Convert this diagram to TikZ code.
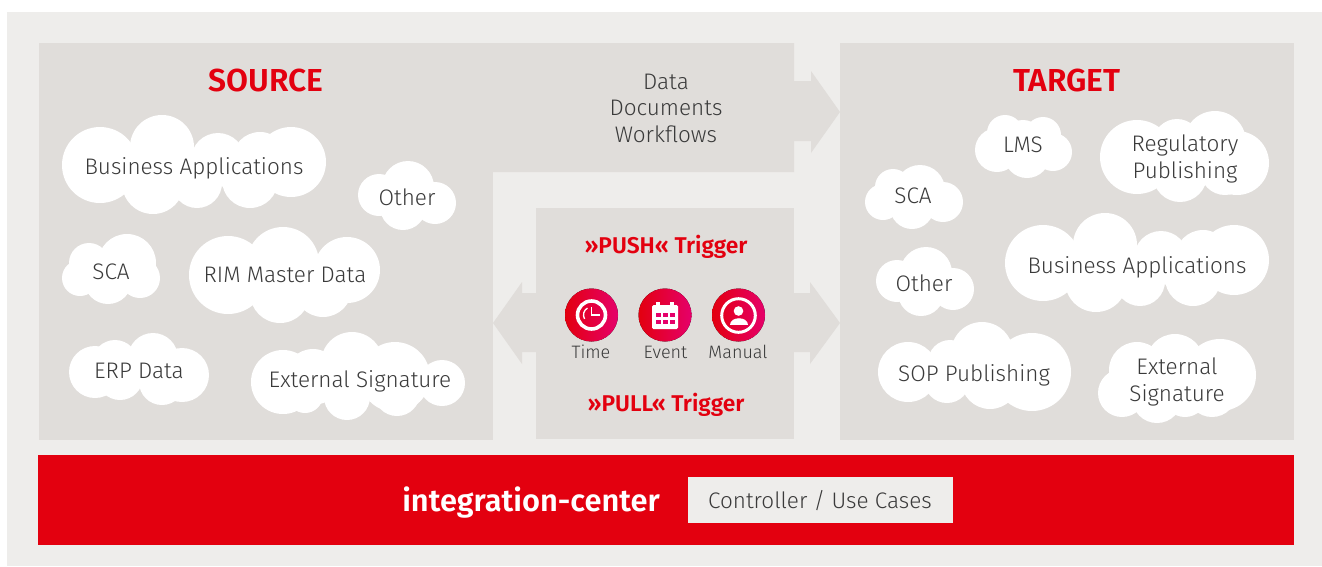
\documentclass[tikz,border=0pt]{standalone}
\usepackage{fontspec}
\setmainfont{Fira Sans}[UprightFont=* Light,BoldFont=* SemiBold]
\definecolor{pagegrey}{HTML}{EEEDEB}
\definecolor{panelgrey}{HTML}{E0DDDA}
\definecolor{icred}{HTML}{E3000F}
\definecolor{icmagenta}{HTML}{E5006A}
\definecolor{inktext}{HTML}{3A3A3A}
\tikzset{
	panel/.style={fill=panelgrey},
	puff/.style={fill=white},
	cloudtext/.style={text=inktext,align=center,font=\fontsize{22.5}{26.5}\selectfont},
	headline/.style={text=icred,font=\bfseries\fontsize{31.8}{34}\selectfont},
	triggertext/.style={text=icred,font=\bfseries\fontsize{22.8}{26}\selectfont},
	icontext/.style={text=inktext,font=\fontsize{18}{20}\selectfont},
	badge/.style={left color=icred,right color=icmagenta},
	iconline/.style={draw=white,line width=3.6pt},
}
\newcommand{\bizcloud}{100/165/38,162/147/32,218/160/27,260/160/28,291/162/35,153/183/31,197/183/25,250/180/28}
\newcommand{\othercloud}{379/195/21,408/187/26,435/203/21,403/207/23}
\newcommand{\scacloudA}{80/278/18,89/263/20,127/263/29,140/278/20,108/280/24}
\newcommand{\scacloudB}{883/202/18,893/187/18,920/190/25,943/202/20,912/207/22}
\newcommand{\rimcloud}{228/275/39,283/263/36,347/270/33,280/293/30,323/288/29}
\newcommand{\erpcloud}{95/372/26,115/363/23,153/358/25,182/375/27,120/377/23,162/382/23}
\newcommand{\signcloudA}{283/382/32,313/377/28,352/363/31,395/377/35,442/383/23,347/397/23,305/395/18,397/393/23}
\newcommand{\lmscloud}{997/150/22,1005/133/18,1043/135/18,1053/152/19,1027/155/23,1023/140/20}
\newcommand{\regcloud}{1137/157/37,1177/143/24,1215/142/31,1237/163/32,1180/175/27,1225/170/25}
\newcommand{\sopcloud}{908/372/30,950/362/22,982/353/31,1032/372/39,947/380/23,990/380/29}
\newcommand{\signcloudB}{1122/393/24,1137/370/28,1175/363/29,1220/375/36,1157/398/25,1212/392/25,1185/395/22}
\newcommand{\drawcloud}[3]{\foreach \x/\y/\r in #3 {\fill[puff,shift={(#1,#2)}] (\x,\y) circle[radius=\r];}}
\begin{document}
\begin{tikzpicture}[x=1pt,y=-1pt]
	\useasboundingbox (0,0) rectangle (1322,566);
	\fill[pagegrey] (7,12) rectangle (1322,566);
	\fill[panel] (39,43) rectangle (493,440);
	\fill[panel] (840,43) rectangle (1294,440);
	\fill[panel] (493,43)--(794,43)--(794,81)--(811,81)--(811,71)--(840,112)--(811,153)--(811,141)--(794,141)--(794,172)--(493,172)--cycle;
	\fill[panel] (536,208) rectangle (794,439);
	\fill[panel] (536,293)--(522,293)--(522,282)--(493,323)--(522,364)--(522,352)--(536,352)--cycle;
	\fill[panel] (794,293)--(810,293)--(810,282)--(840,323)--(810,364)--(810,352)--(794,352)--cycle;
	\fill[icred] (38,455) rectangle (1294,545);
	\fill[pagegrey] (688,477) rectangle (953,523);

	\drawcloud{0}{0}{\bizcloud}
	\drawcloud{0}{0}{\othercloud}
	\drawcloud{0}{0}{\scacloudA}
	\drawcloud{0}{0}{\rimcloud}
	\drawcloud{0}{0}{\erpcloud}
	\drawcloud{0}{0}{\signcloudA}
	\drawcloud{943}{98}{\bizcloud}
	\drawcloud{518}{86}{\othercloud}
	\drawcloud{0}{0}{\scacloudB}
	\drawcloud{0}{0}{\lmscloud}
	\drawcloud{0}{0}{\regcloud}
	\drawcloud{0}{0}{\sopcloud}
	\drawcloud{0}{0}{\signcloudB}

	\node[headline] (source) at (266,80) {SOURCE};
	\node[headline] (target) at (1067,80) {TARGET};
	\node[cloudtext] (flow) at (666,108) {Data\\Documents\\Workflows};
	\node[cloudtext] (srcbiz) at (194,168) {Business Applications};
	\node[cloudtext] (srcother) at (407,197) {Other};
	\node[cloudtext] (srcsca) at (111,272) {SCA};
	\node[cloudtext] (srcrim) at (285,275) {RIM Master Data};
	\node[cloudtext] (srcerp) at (139,371) {ERP Data};
	\node[cloudtext] (srcsign) at (360,381) {External Signature};
	\node[cloudtext] (tgtlms) at (1023,145) {LMS};
	\node[cloudtext] (tgtreg) at (1185,159) {Regulatory\\Publishing};
	\node[cloudtext] (tgtsca) at (913,196) {SCA};
	\node[cloudtext] (tgtbiz) at (1137,267) {Business Applications};
	\node[cloudtext] (tgtother) at (924,283) {Other};
	\node[cloudtext] (tgtsop) at (974,375) {SOP Publishing};
	\node[cloudtext] (tgtsign) at (1177,382) {External\\Signature};

	\node[triggertext] (push) at (666,247) {»PUSH« Trigger};
	\node[triggertext] (pull) at (666,405) {»PULL« Trigger};

	\fill[badge] (591.5,315) circle[radius=26.5];
	\draw[iconline] (591.5,315) circle[radius=14];
	\draw[draw=white,line width=1.5pt] (591.5,307)--(591.5,315)--(600,315);
	\draw[draw=white,line width=1.3pt] (587.5,308) arc[start angle=240,end angle=150,radius=8];
	\fill[badge] (665,315) circle[radius=26.5];
	\fill[white,rounded corners=1.5pt] (652,305) rectangle (678,329);
	\fill[white] (656,301.5) rectangle (660,307);
	\fill[white] (670,301.5) rectangle (674,307);
	\foreach \x in {655.5,662.5,669.5} {
		\foreach \y in {313,320} {
			\fill[icmagenta] (\x,\y) rectangle +(5,4.2);
		}
	}
	\fill[badge] (738.5,315) circle[radius=26.5];
	\draw[draw=white,line width=3pt] (738.5,315.5) circle[radius=16.8];
	\fill[white] (738.5,311) circle[radius=4.8];
	\fill[white] (729.5,325)..controls (729.5,316) and (747.5,316)..(747.5,325)--cycle;

	\node[icontext] (time) at (591,352) {Time};
	\node[icontext] (event) at (665.5,352) {Event};
	\node[icontext] (manual) at (738,352) {Manual};

	\node[text=white,font=\bfseries\fontsize{30.8}{34}\selectfont] (hub) at (531,503) {integration-center};
	\node[cloudtext] (usecases) at (820,501) {Controller / Use Cases};
\end{tikzpicture}
\end{document}
